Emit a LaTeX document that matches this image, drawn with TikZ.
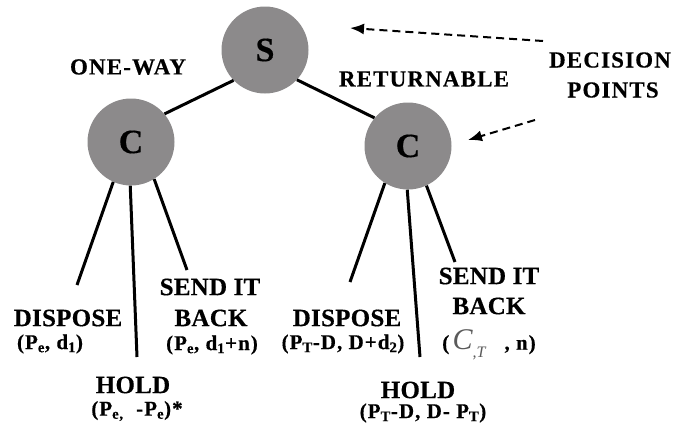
\documentclass[tikz,border=0pt]{standalone}
\usepackage{fontspec}
\setmainfont{Liberation Serif}
\newfontfamily\heavy[UprightFont=* Bold, ItalicFont=* Bold Italic, FakeBold=0.4]{Liberation Serif}
\usetikzlibrary{arrows.meta}
\definecolor{nodegray}{RGB}{140,138,139}
\definecolor{cgray}{RGB}{90,90,90}
\tikzset{
  decision/.style={circle, fill=nodegray, minimum size=87pt, inner sep=0pt,
    font=\fontsize{34}{36}\selectfont\heavy},
  branch/.style={line width=3pt},
  pointer/.style={line width=2pt, dash pattern=on 8pt off 5pt,
    -{Latex[length=14pt,width=11pt]}},
  bigtxt/.style={inner sep=0pt, font=\fontsize{23}{24}\selectfont\heavy\addfontfeatures{LetterSpace=5}},
  lbl/.style={inner sep=0pt, font=\fontsize{25}{26}\selectfont\heavy\addfontfeatures{LetterSpace=1}},
  frm/.style={inner sep=0pt, font=\fontsize{21}{22}\selectfont\heavy\addfontfeatures{LetterSpace=5}}
}
\begin{document}
\begin{tikzpicture}[x=1pt,y=-1pt]
\useasboundingbox (0,0) rectangle (675,432);
% decision nodes
\node[decision] (s) at (265,50) {S};
\node[decision] (lc) at (131,142) {C};
\node[decision] (rc) at (408,146) {C};
\draw[branch] (s.224) -- (lc.40);
\draw[branch] (s.317) -- (rc.140);
% labels on top
\node[bigtxt] (ow) at (128,67) {ONE-WAY};
\node[bigtxt] (rt) at (424,79) {RETURNABLE};
\node[bigtxt] (dp1) at (610,60) {DECISION};
\node[bigtxt] (dp2) at (613,90) {POINTS};
% pointer arrows
\coordinate (a1s) at (543,41);
\coordinate (a1e) at (350,28);
\coordinate (a2s) at (535,120);
\coordinate (a2e) at (468,140);
\draw[pointer] (a1s) -- (a1e);
\draw[pointer] (a2s) -- (a2e);
% leaf ends
\coordinate (lde) at (77,285);
\coordinate (lhe) at (137,357);
\coordinate (lse) at (187,270);
\coordinate (rde) at (350,282);
\coordinate (rhe) at (420,357);
\coordinate (rse) at (455,262);
\draw[branch] (lc.246) -- (lde);
\draw[branch] (lc.269) -- (lhe);
\draw[branch] (lc.302) -- (lse);
\draw[branch] (rc.238) -- (rde);
\draw[branch] (rc.269) -- (rhe);
\draw[branch] (rc.295) -- (rse);
% left leaves
\node[lbl] (ld1) at (68,318) {DISPOSE};
\node[frm] (ld2) at (50,344) {(P\textsubscript{e}, d\textsubscript{1})};
\node[lbl] (ls1) at (210,287) {SEND IT};
\node[lbl] (ls2) at (211,318) {BACK};
\node[frm] (ls3) at (212,345) {(P\textsubscript{e}, d\textsubscript{1}+n)};
\node[lbl] (lh1) at (133,385) {HOLD};
\node[frm] (lh2) at (137,411) {(P\textsubscript{e,}\ \ -P\textsubscript{e})*};
% right leaves
\node[lbl] (rd1) at (347,318) {DISPOSE};
\node[frm] (rd2) at (343,344) {(P\textsubscript{T}-D, D+d\textsubscript{2})};
\node[lbl] (rs1) at (489,276) {SEND IT};
\node[lbl] (rs2) at (489,306) {BACK};
\node[frm] (rs3) at (489,345) {(\,{\fontsize{30}{30}\selectfont\rmfamily\itshape\color{cgray}C}\raisebox{-8pt}{\fontsize{16}{16}\selectfont\rmfamily\itshape\color{cgray},T}\ \ \ , n)};
\node[lbl] (rh1) at (418,390) {HOLD};
\node[frm] (rh2) at (423,413) {(P\textsubscript{T}-D, D- P\textsubscript{T})};
\end{tikzpicture}
\end{document}
